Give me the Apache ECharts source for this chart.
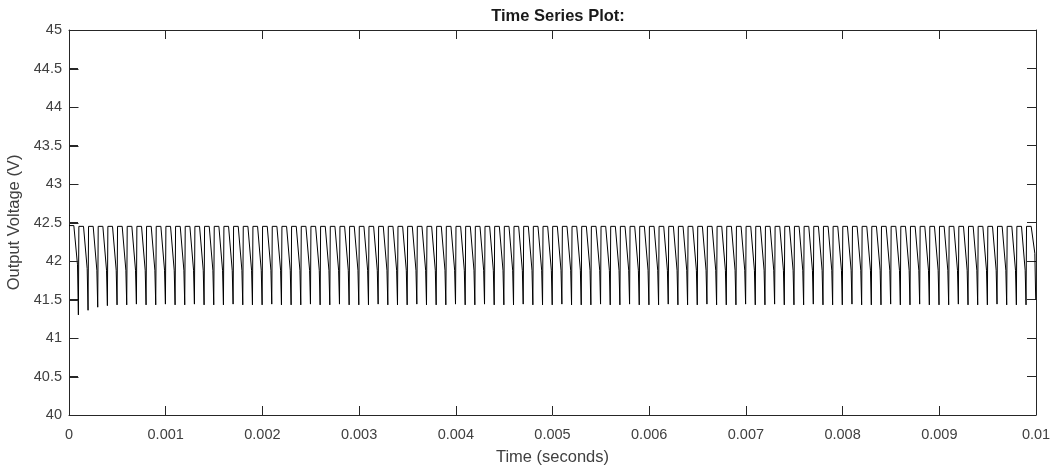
<!DOCTYPE html>
<html>
<head>
<meta charset="utf-8">
<script src="https://cdn.jsdelivr.net/npm/echarts@6/dist/echarts.min.js"></script>
<style>
  html, body { margin: 0; padding: 0; background: #ffffff; }
  #chart { width: 1055px; height: 470px; }
</style>
</head>
<body>
<div id="chart"></div>
<script>
// Output voltage ripple of the converter, one entry per switching cycle
const switchingPeriod = 0.0001; // seconds
const cycleCount = 100;

// Peak voltage reached in each cycle (V)
const cyclePeaks = [
  42.46, 42.45, 42.45, 42.45, 42.45, 42.45, 42.45, 42.45, 42.45, 42.45,
  42.45, 42.45, 42.45, 42.45, 42.45, 42.45, 42.45, 42.45, 42.45, 42.45,
  42.45, 42.45, 42.45, 42.45, 42.45, 42.45, 42.45, 42.45, 42.45, 42.45,
  42.45, 42.45, 42.45, 42.45, 42.45, 42.45, 42.45, 42.45, 42.45, 42.45,
  42.45, 42.45, 42.45, 42.45, 42.45, 42.45, 42.45, 42.45, 42.45, 42.45,
  42.45, 42.45, 42.45, 42.45, 42.45, 42.45, 42.45, 42.45, 42.45, 42.45,
  42.45, 42.45, 42.45, 42.45, 42.45, 42.45, 42.45, 42.45, 42.45, 42.45,
  42.45, 42.45, 42.45, 42.45, 42.45, 42.45, 42.45, 42.45, 42.45, 42.45,
  42.45, 42.45, 42.45, 42.45, 42.45, 42.45, 42.45, 42.45, 42.45, 42.45,
  42.45, 42.45, 42.45, 42.45, 42.45, 42.45, 42.45, 42.45, 42.45, 42.45
];

// Voltage where the discharge turns steep in each cycle (V)
const cycleKnees = [
  41.95, 41.90, 41.88, 41.88, 41.88, 41.88, 41.88, 41.88, 41.88, 41.88,
  41.88, 41.88, 41.88, 41.88, 41.88, 41.88, 41.88, 41.88, 41.88, 41.88,
  41.88, 41.88, 41.88, 41.88, 41.88, 41.88, 41.88, 41.88, 41.88, 41.88,
  41.88, 41.88, 41.88, 41.88, 41.88, 41.88, 41.88, 41.88, 41.88, 41.88,
  41.88, 41.88, 41.88, 41.88, 41.88, 41.88, 41.88, 41.88, 41.88, 41.88,
  41.88, 41.88, 41.88, 41.88, 41.88, 41.88, 41.88, 41.88, 41.88, 41.88,
  41.88, 41.88, 41.88, 41.88, 41.88, 41.88, 41.88, 41.88, 41.88, 41.88,
  41.88, 41.88, 41.88, 41.88, 41.88, 41.88, 41.88, 41.88, 41.88, 41.88,
  41.88, 41.88, 41.88, 41.88, 41.88, 41.88, 41.88, 41.88, 41.88, 41.88,
  41.88, 41.88, 41.88, 41.88, 41.88, 41.88, 41.88, 41.88, 41.88, 42.10
];

// Lowest voltage of each cycle (V)
const cycleTroughs = [
  41.30, 41.36, 41.40, 41.42, 41.43, 41.43, 41.44, 41.43, 41.43, 41.44,
  41.43, 41.43, 41.44, 41.43, 41.43, 41.43, 41.44, 41.43, 41.43, 41.43,
  41.44, 41.43, 41.43, 41.43, 41.44, 41.43, 41.43, 41.44, 41.43, 41.43,
  41.43, 41.44, 41.43, 41.43, 41.43, 41.44, 41.43, 41.43, 41.43, 41.44,
  41.43, 41.43, 41.44, 41.43, 41.43, 41.43, 41.44, 41.43, 41.43, 41.43,
  41.44, 41.43, 41.43, 41.43, 41.44, 41.43, 41.43, 41.44, 41.43, 41.43,
  41.43, 41.44, 41.43, 41.43, 41.43, 41.44, 41.43, 41.43, 41.43, 41.44,
  41.43, 41.43, 41.44, 41.43, 41.43, 41.43, 41.44, 41.43, 41.43, 41.43,
  41.44, 41.43, 41.43, 41.43, 41.44, 41.43, 41.43, 41.44, 41.43, 41.43,
  41.43, 41.44, 41.43, 41.43, 41.43, 41.44, 41.43, 41.43, 41.43, 41.50
];

// Instants within a cycle (fraction of the period): end of rise, end of
// plateau, knee of the discharge, bottom of the discharge
const cyclePhases = [0.02, 0.50, 0.88, 0.97];

const xTickLabels = ['0', '0.001', '0.002', '0.003', '0.004', '0.005',
                     '0.006', '0.007', '0.008', '0.009', '0.01'];
const yTickLabels = ['40', '40.5', '41', '41.5', '42', '42.5',
                     '43', '43.5', '44', '44.5', '45'];
const yTickValues = [40, 40.5, 41, 41.5, 42, 42.5, 43, 43.5, 44, 44.5, 45];

// Build the waveform as (time, voltage) pairs
const waveform = [];
for (let k = 0; k < cycleCount; k++) {
  const t0 = k * switchingPeriod;
  if (k === 0) {
    waveform.push([0, cyclePeaks[0]]);
  } else {
    waveform.push([t0, cycleTroughs[k - 1]]);
    waveform.push([t0 + cyclePhases[0] * switchingPeriod, cyclePeaks[k]]);
  }
  waveform.push([t0 + cyclePhases[1] * switchingPeriod, cyclePeaks[k]]);
  waveform.push([t0 + cyclePhases[2] * switchingPeriod, cycleKnees[k]]);
  waveform.push([t0 + cyclePhases[3] * switchingPeriod, cycleTroughs[k]]);
}

const axisColor = '#262626';
const labelColor = '#404040';
const fontFamily = 'Liberation Sans, Arial, Helvetica, sans-serif';
const tickLength = 9;

const xLabelAt = v => xTickLabels[Math.round(v / 0.001)] ?? '';
const yLabelAt = v => yTickLabels[Math.round((v - 40) / 0.5)] ?? '';

// Shared look of the four sides of the axes box
const boxAxis = () => ({
  axisLine: { show: true, onZero: false, lineStyle: { color: axisColor, width: 1 } },
  axisTick: { show: true, inside: true, length: tickLength, lineStyle: { color: axisColor, width: 1 } },
  splitLine: { show: false }
});

const chart = echarts.init(document.getElementById('chart'), null, { renderer: 'canvas' });
chart.setOption({
  animation: false,
  backgroundColor: '#ffffff',
  title: {
    text: 'Time Series Plot:',
    left: 553,
    top: 3,
    textAlign: 'center',
    textStyle: { fontFamily, fontSize: 16.5, fontWeight: 'bold', color: '#1a1a1a' }
  },
  grid: { left: 69, right: 19, top: 30, bottom: 55, containLabel: false, outerBoundsMode: 'none' },
  xAxis: [
    Object.assign(boxAxis(), {
      type: 'value', position: 'bottom', min: 0, max: 0.01, interval: 0.001,
      name: 'Time (seconds)', nameLocation: 'middle', nameGap: 34,
      nameTextStyle: { fontFamily, fontSize: 16.5, color: labelColor },
      axisLabel: { show: true, margin: 12, color: labelColor, fontFamily, fontSize: 14.5, formatter: xLabelAt }
    }),
    Object.assign(boxAxis(), {
      type: 'value', position: 'top', min: 0, max: 0.01, interval: 0.001,
      axisLabel: { show: false }
    })
  ],
  yAxis: [
    Object.assign(boxAxis(), {
      type: 'value', position: 'left', min: 40, max: 45, interval: 0.5,
      name: 'Output Voltage (V)', nameLocation: 'middle', nameGap: 44,
      nameTextStyle: { fontFamily, fontSize: 16.5, color: labelColor },
      axisLabel: { show: true, margin: 7, color: labelColor, fontFamily, fontSize: 14.5, formatter: yLabelAt }
    }),
    Object.assign(boxAxis(), {
      type: 'value', position: 'right', min: 40, max: 45, interval: 0.5,
      axisLabel: { show: false }
    })
  ],
  series: [{
    type: 'line',
    data: waveform,
    xAxisIndex: 0,
    yAxisIndex: 0,
    showSymbol: false,
    symbol: 'none',
    sampling: null,
    lineStyle: { color: '#000000', width: 1 },
    silent: true
  }]
});

// Inward tick marks on the left side of the box, placed through the axis scales
const leftEdge = chart.convertToPixel({ xAxisIndex: 0 }, 0);
chart.setOption({
  graphic: yTickValues.map(v => {
    const y = Math.round(chart.convertToPixel({ yAxisIndex: 0 }, v)) + 0.5;
    const x = Math.round(leftEdge) + 0.5;
    return {
      type: 'line',
      silent: true,
      z: 10,
      shape: { x1: x, y1: y, x2: x + tickLength, y2: y },
      style: { stroke: axisColor, lineWidth: 1 }
    };
  })
});
</script>
</body>
</html>
